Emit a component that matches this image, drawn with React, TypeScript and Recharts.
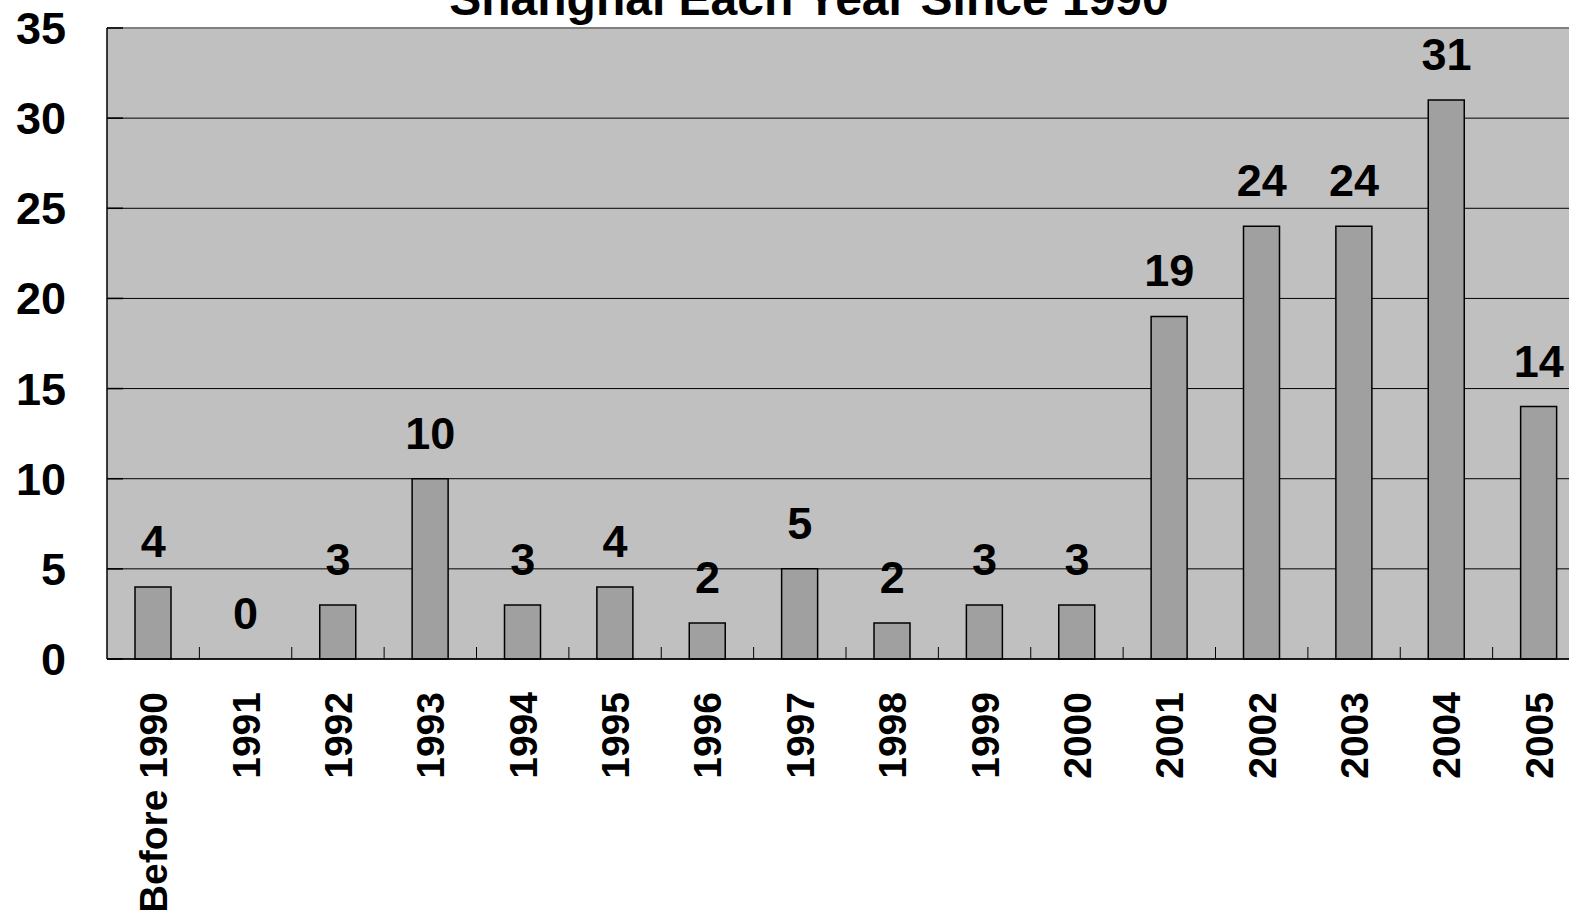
import { ComposedChart, Bar, Line, XAxis, YAxis, CartesianGrid, ReferenceLine, LabelList } from "recharts";

const categories = [
  "Before 1990", "1991", "1992", "1993", "1994", "1995", "1996", "1997",
  "1998", "1999", "2000", "2001", "2002", "2003", "2004", "2005",
];
const counts = [4, 0, 3, 10, 3, 4, 2, 5, 2, 3, 3, 19, 24, 24, 31, 14];
const yTicks = [0, 5, 10, 15, 20, 25, 30, 35];
const titleText = "Shanghai Each Year Since 1990";

const data = categories.map((year, i) => ({ year, count: counts[i] }));

const FONT = '"Liberation Sans", Arial, sans-serif';
const W = 1600;
const H = 910;
const PLOT_LEFT = 107;
const PLOT_RIGHT = 1585;
const BAND = (PLOT_RIGHT - PLOT_LEFT) / categories.length;

function YTick(props: any) {
  const { x, y, payload } = props;
  return (
    <g>
      <line x1={x} x2={x + 16} y1={y} y2={y} stroke="#000" strokeWidth={1.5} />
      <text x={x - 41} y={y + 16} textAnchor="end" fontFamily={FONT} fontWeight="bold" fontSize={45} fill="#000">
        {payload.value}
      </text>
    </g>
  );
}

function XTick(props: any) {
  const { x, y, payload, index } = props;
  const tx = x + 14;
  const ty = y + 33;
  return (
    <g>
      {index > 0 && (
        <line x1={x - BAND / 2} x2={x - BAND / 2} y1={y - 12} y2={y} stroke="#000" strokeWidth={1} />
      )}
      <text
        x={tx}
        y={ty}
        transform={`rotate(-90, ${tx}, ${ty})`}
        textAnchor="end"
        fontFamily={FONT}
        fontWeight="bold"
        fontSize={39}
        fill="#000"
      >
        {payload.value}
      </text>
    </g>
  );
}

// labels hang off an invisible line so the zero bar still gets its "0"
function ValueLabel(props: any) {
  const { x, y, value } = props;
  return (
    <text x={x} y={y - 30} textAnchor="middle" fontFamily={FONT} fontWeight="bold" fontSize={45} fill="#000">
      {value}
    </text>
  );
}

export default function App() {
  return (
    <div style={{ position: "fixed", left: 0, top: 0, width: 1569, height: 910, overflow: "hidden", background: "#fff" }}>
      <ComposedChart
        width={W}
        height={H}
        data={data}
        margin={{ top: 28, right: W - PLOT_RIGHT, bottom: 0, left: 0 }}
      >
        <CartesianGrid fill="#C0C0C0" stroke="#000" strokeWidth={1} vertical={false} />
        <XAxis
          dataKey="year"
          height={H - 659}
          interval={0}
          tickSize={0}
          tickMargin={0}
          tick={<XTick />}
          axisLine={{ stroke: "#000", strokeWidth: 1.5 }}
        />
        <YAxis
          width={PLOT_LEFT}
          domain={[0, 35]}
          ticks={yTicks}
          interval={0}
          tickSize={0}
          tickMargin={0}
          tick={<YTick />}
          axisLine={{ stroke: "#000", strokeWidth: 1.5 }}
        />
        <ReferenceLine y={35} stroke="#808080" strokeWidth={2} />
        <Bar dataKey="count" fill="#A0A0A0" stroke="#000" strokeWidth={1.5} barSize={36} isAnimationActive={false} />
        <Line dataKey="count" stroke="none" dot={false} activeDot={false} legendType="none" isAnimationActive={false}>
          <LabelList dataKey="count" content={<ValueLabel />} />
        </Line>
      </ComposedChart>
      <svg width={1569} height={40} style={{ position: "absolute", left: 0, top: 0 }}>
        <text x={809} y={15} textAnchor="middle" fontFamily={FONT} fontWeight="bold" fontSize={48} fill="#000">
          {titleText}
        </text>
      </svg>
    </div>
  );
}
